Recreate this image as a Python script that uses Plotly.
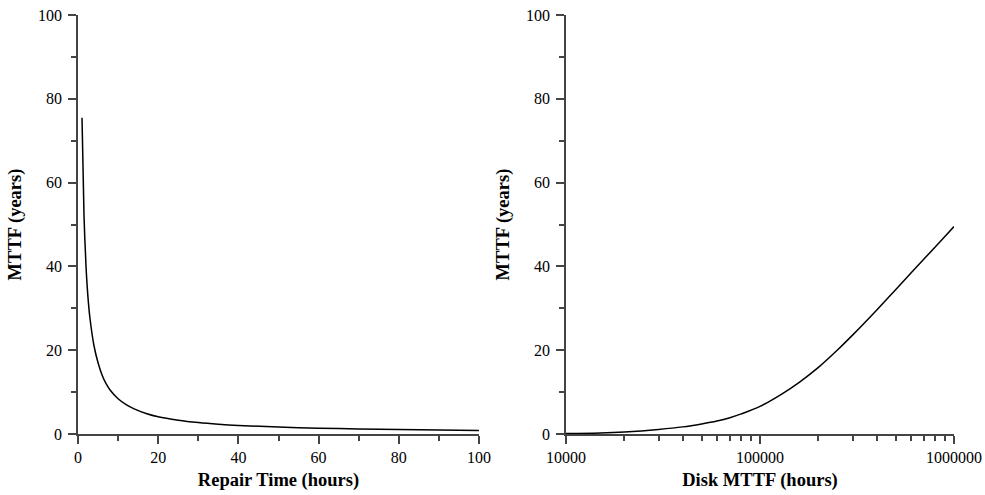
import plotly.graph_objects as go

# Left panel: MTTF (years) against repair time (hours)
repair_hours = [1, 1.5, 2, 2.5, 3, 4, 5, 6, 7, 8, 10, 12, 14, 17, 20, 25, 30, 35,
                40, 50, 60, 70, 80, 90, 100]
mttf_vs_repair = [75.5, 52, 40, 32.5, 27.5, 21, 17, 14.1, 12, 10.5, 8.4, 7, 6,
                  4.9, 4.1, 3.3, 2.75, 2.35, 2.05, 1.65, 1.4, 1.2, 1.06, 0.95, 0.86]

# Right panel: MTTF (years) against disk MTTF (hours)
disk_mttf_hours = [10000, 15000, 20000, 30000, 40000, 50000, 60000, 70000, 80000,
                   100000, 130000, 160000, 200000, 250000, 300000, 400000, 500000,
                   600000, 700000, 800000, 900000, 1000000]
mttf_vs_disk = [0.1, 0.25, 0.5, 1.1, 1.7, 2.4, 3.1, 3.9, 4.8, 6.6, 9.6, 12.4, 15.9,
                20.0, 23.6, 29.6, 34.45, 38.4, 41.75, 44.65, 47.2, 49.5]

y_ticks = [0, 20, 40, 60, 80, 100]
left_x_ticks = [0, 20, 40, 60, 80, 100]
right_x_ticks = [10000, 100000, 1000000]
right_x_ticktext = ["10000", "100000", "1000000"]
right_minor = [m * d for d in (10000, 100000) for m in range(2, 10)]

FONT = "Liberation Serif, Times New Roman, serif"
AXIS_COLOR = "#444444"

fig = go.Figure()
fig.add_trace(go.Scatter(x=repair_hours, y=mttf_vs_repair, mode="lines",
                         line=dict(color="black", width=1.5, shape="spline",
                                   smoothing=0.8),
                         xaxis="x", yaxis="y", showlegend=False))
fig.add_trace(go.Scatter(x=disk_mttf_hours, y=mttf_vs_disk, mode="lines",
                         line=dict(color="black", width=1.5, shape="spline",
                                   smoothing=1.0),
                         xaxis="x2", yaxis="y2", showlegend=False))

W, H = 985, 495
y_dom = [1 - 434 / H, 1 - 15 / H]

common = dict(showgrid=False, zeroline=False, showline=True, linecolor=AXIS_COLOR,
              linewidth=1.5, ticks="outside", ticklen=8, tickwidth=1.5,
              tickcolor=AXIS_COLOR, tickfont=dict(family=FONT, size=16, color="black"),
              automargin=False)

title_font = dict(family=FONT, size=18.5, color="black", weight="bold")
minor_ticks = dict(ticks="outside", ticklen=5, tickwidth=1.5, tickcolor=AXIS_COLOR)

fig.update_layout(
    width=W, height=H,
    margin=dict(l=0, r=0, t=0, b=0),
    plot_bgcolor="white", paper_bgcolor="white",
    xaxis=dict(domain=[78 / W, 479 / W], range=[0, 100], tickmode="array",
               tickvals=left_x_ticks, anchor="y",
               title=dict(text="Repair Time (hours)", font=title_font, standoff=8),
               minor=dict(dtick=10, **minor_ticks),
               **common),
    yaxis=dict(domain=y_dom, range=[0, 100], tickmode="array", tickvals=y_ticks,
               anchor="x", ticklabelstandoff=3,
               title=dict(text="MTTF (years)", font=title_font, standoff=12),
               minor=dict(dtick=10, **minor_ticks),
               **common),
    xaxis2=dict(domain=[566 / W, 954 / W], type="log", range=[4, 6],
                tickmode="array", tickvals=right_x_ticks, ticktext=right_x_ticktext,
                anchor="y2",
                title=dict(text="Disk MTTF (hours)", font=title_font, standoff=8),
                minor=dict(tickmode="array", tickvals=right_minor, **minor_ticks),
                **common),
    yaxis2=dict(domain=y_dom, range=[0, 100], tickmode="array", tickvals=y_ticks,
                anchor="x2", ticklabelstandoff=3,
                title=dict(text="MTTF (years)", font=title_font, standoff=12),
                minor=dict(dtick=10, **minor_ticks),
                **common),
)

fig.write_html("out.html")
